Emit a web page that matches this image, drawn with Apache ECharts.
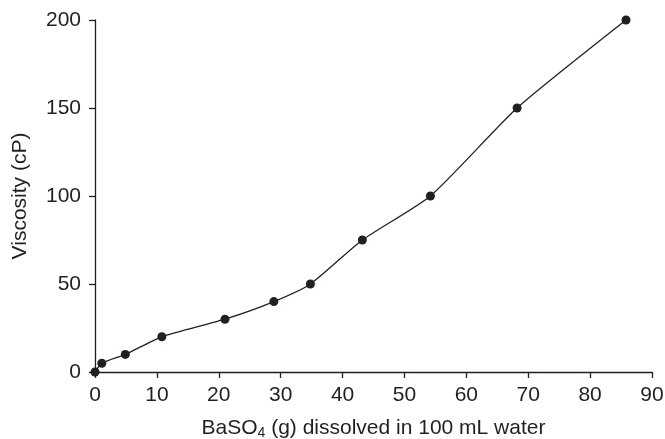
<!DOCTYPE html>
<html>
<head>
<meta charset="utf-8">
<script src="https://cdn.jsdelivr.net/npm/echarts@6/dist/echarts.min.js"></script>
<style>
  html, body { margin: 0; padding: 0; background: #fff; }
  #chart { width: 665px; height: 439px; }
</style>
</head>
<body>
<div id="chart"></div>
<script>
// BaSO4 dissolved (g per 100 mL) vs viscosity (cP)
const baso4Grams = [0, 1.1, 4.9, 10.8, 21, 28.9, 34.8, 43.2, 54.2, 68.2, 85.8];
const viscosity = [0, 5, 10, 20, 30, 40, 50, 75, 100, 150, 200];
const xTicks = [0, 10, 20, 30, 40, 50, 60, 70, 80, 90];
const yTicks = [0, 50, 100, 150, 200];

const ink = '#231f20';
const fontFamily = 'Liberation Sans, Arial, sans-serif';
const fs = 21;

const chart = echarts.init(document.getElementById('chart'));
chart.setOption({
    animation: false,
    backgroundColor: '#fff',
    grid: { left: 95, right: 13, top: 20, bottom: 67, outerBoundsMode: 'none' },
    xAxis: {
        type: 'value',
        min: xTicks[0],
        max: xTicks[xTicks.length - 1],
        interval: 10,
        name: '{n|BaSO}{s|4}{n| (g) dissolved in 100 mL water}',
        nameLocation: 'middle',
        nameGap: 44,
        nameTextStyle: {
            rich: {
                n: { fontSize: fs, color: ink, fontFamily: fontFamily },
                s: { fontSize: 14, color: ink, fontFamily: fontFamily, padding: [10, 0, 0, 0] }
            }
        },
        axisLine: { lineStyle: { color: ink, width: 1.3 } },
        axisTick: { length: 6, lineStyle: { color: ink, width: 1.3 } },
        axisLabel: { color: ink, fontSize: fs, fontFamily: fontFamily, margin: 13 },
        splitLine: { show: false }
    },
    yAxis: {
        type: 'value',
        min: yTicks[0],
        max: yTicks[yTicks.length - 1],
        interval: 50,
        name: 'Viscosity (cP)',
        nameLocation: 'middle',
        nameGap: 64,
        nameTextStyle: { color: ink, fontSize: fs, fontFamily: fontFamily },
        axisLine: { show: true, lineStyle: { color: ink, width: 1.3 } },
        axisTick: { show: true, length: 6, lineStyle: { color: ink, width: 1.3 } },
        axisLabel: { color: ink, fontSize: fs, fontFamily: fontFamily, margin: 14 },
        splitLine: { show: false }
    },
    series: [{
        type: 'line',
        data: baso4Grams.map((x, i) => [x, viscosity[i]]),
        smooth: 0.2,
        symbol: 'circle',
        symbolSize: 9,
        itemStyle: { color: ink },
        lineStyle: { color: ink, width: 1.3 }
    }]
});
</script>
</body>
</html>
